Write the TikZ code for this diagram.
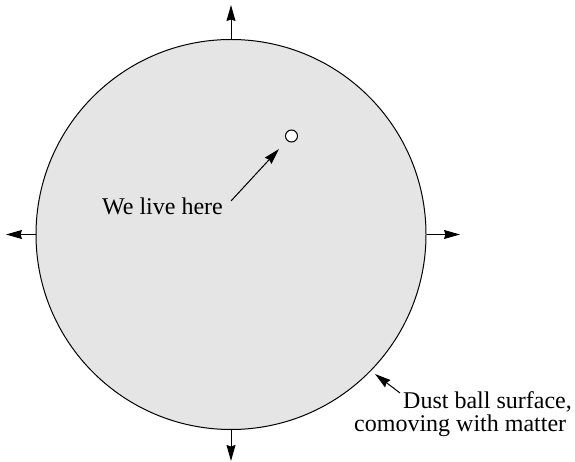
\documentclass[tikz,border=0pt]{standalone}
\usepackage{fontspec}
\setmainfont{Liberation Serif}
\usetikzlibrary{arrows.meta}
\begin{document}
\begin{tikzpicture}[x=1pt,y=-1pt,
  ball/.style={draw=black,line width=1pt,fill=black!10,circle,minimum size=390pt,inner sep=0pt},
  spot/.style={draw=black,line width=1pt,fill=white,circle,minimum size=12pt,inner sep=0pt},
  arr/.style={line width=1pt,-{Stealth[length=16pt,width=9pt,inset=1.5pt]}},
  lbl/.style={font=\fontsize{24}{28}\selectfont,inner sep=0pt}]
\useasboundingbox (0,0) rectangle (575,462);
\node[ball] (ball) at (231,234.5) {};
\node[spot] (home) at (291.5,136) {};
\coordinate (ntip) at (231,5);
\coordinate (stip) at (231,461);
\coordinate (wtip) at (6,234.5);
\coordinate (etip) at (460,234.5);
\draw[arr] (ball.north) -- (ntip);
\draw[arr] (ball.south) -- (stip);
\draw[arr] (ball.west) -- (wtip);
\draw[arr] (ball.east) -- (etip);
\node[lbl,anchor=base west] (we) at (102,215) {We live here};
\coordinate (wefrom) at (231,201);
\coordinate (wetip) at (279,149);
\draw[arr] (wefrom) -- (wetip);
\node[lbl,anchor=base west] (dust1) at (403,408) {Dust ball surface,};
\node[lbl,anchor=base west] (dust2) at (354,431) {comoving with matter};
\coordinate (dfrom) at (400,393);
\coordinate (dtip) at (375,374);
\draw[arr] (dfrom) -- (dtip);
\end{tikzpicture}
\end{document}
